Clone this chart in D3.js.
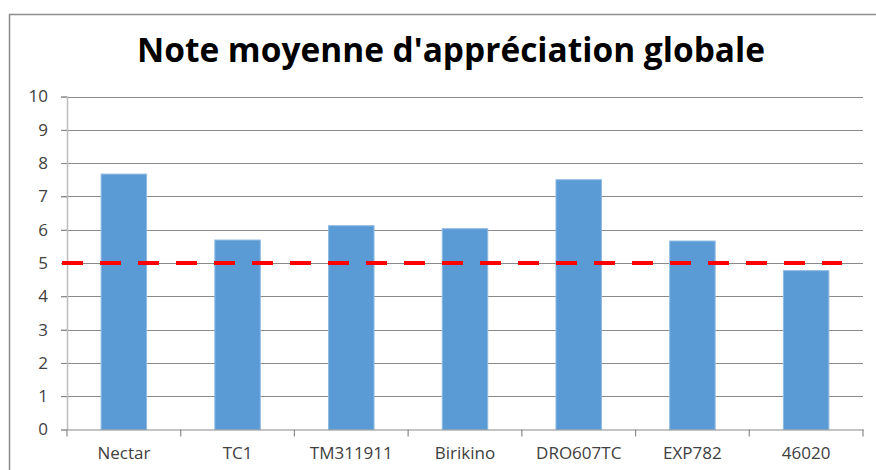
<!DOCTYPE html>
<html><head><meta charset="utf-8">
<script src="https://cdn.jsdelivr.net/npm/d3@7"></script>
<style>body{margin:0;background:#fff}svg{display:block}</style>
</head><body>
<svg id="c" width="876" height="470"></svg>
<script>
const categories = ["Nectar","TC1","TM311911","Birikino","DRO607TC","EXP782","46020"];
const values = [7.67, 5.69, 6.12, 6.03, 7.5, 5.66, 4.77];
const yTicks = [0,1,2,3,4,5,6,7,8,9,10];
const threshold = 5;
const title = "Note moyenne d'appréciation globale";

const svg = d3.select("#c");
const m = {left:67, right:863, top:96.5, bottom:429.5};
// chart frame
svg.append("rect").attr("x",9.5).attr("y",14.5).attr("width",900).attr("height",500)
  .attr("fill","#fff").attr("stroke","#8c8c8c").attr("stroke-width",1.5);

const x = d3.scaleBand().domain(categories).range([m.left,m.right]).paddingInner(0.6).paddingOuter(0.3);
const y = d3.scaleLinear().domain([0,10]).range([m.bottom,m.top]);

// gridlines
svg.append("g").selectAll("line").data(yTicks.filter(d=>d>0)).join("line")
  .attr("x1",m.left-6).attr("x2",m.right).attr("y1",d=>Math.round(y(d))+0.5).attr("y2",d=>Math.round(y(d))+0.5)
  .attr("stroke","#8a8a8a").attr("stroke-width",1);

// y axis
const ya = svg.append("g").attr("transform",`translate(${m.left},0)`)
  .call(d3.axisLeft(y).tickValues(yTicks).tickSize(6).tickPadding(13).tickFormat(d3.format("d")));
ya.select(".domain").attr("stroke","#bdbdbd").attr("stroke-width",1.5);
ya.selectAll(".tick line").attr("stroke","#8a8a8a");
ya.selectAll("text").attr("font-family","Open Sans").attr("font-size",17).attr("fill","#404040");

// bars
svg.append("g").selectAll("rect").data(values).join("rect")
  .attr("x",(d,i)=>x(categories[i])).attr("width",x.bandwidth())
  .attr("y",d=>y(d)).attr("height",d=>y(0)-y(d))
  .attr("fill","#5b9bd5").attr("stroke","#8fbbe3").attr("stroke-width",1);

// x axis
const xa = svg.append("g").attr("transform",`translate(0,${m.bottom})`)
  .call(d3.axisBottom(x).tickSize(0).tickPadding(17));
xa.select(".domain").attr("stroke","#8a8a8a").attr("stroke-width",1.2);
xa.selectAll("text").attr("font-family","Open Sans").attr("font-size",17).attr("fill","#404040");
// category separator ticks
const step = (m.right-m.left)/categories.length;
svg.append("g").selectAll("line").data(d3.range(categories.length+1)).join("line")
  .attr("x1",i=>m.left+i*step).attr("x2",i=>m.left+i*step)
  .attr("y1",m.bottom).attr("y2",m.bottom+7).attr("stroke","#8a8a8a").attr("stroke-width",1.2);

// threshold line
svg.append("line").attr("x1",62).attr("x2",842).attr("y1",y(threshold)).attr("y2",y(threshold))
  .attr("stroke","#ff0000").attr("stroke-width",4).attr("stroke-dasharray","21 17");

// title
svg.append("text").attr("x",451).attr("y",62).attr("text-anchor","middle")
  .attr("font-family","Open Sans").attr("font-weight","bold").attr("font-size",34)
  .attr("textLength",628).attr("lengthAdjust","spacingAndGlyphs")
  .attr("fill","#000").text(title);
</script>
</body></html>
